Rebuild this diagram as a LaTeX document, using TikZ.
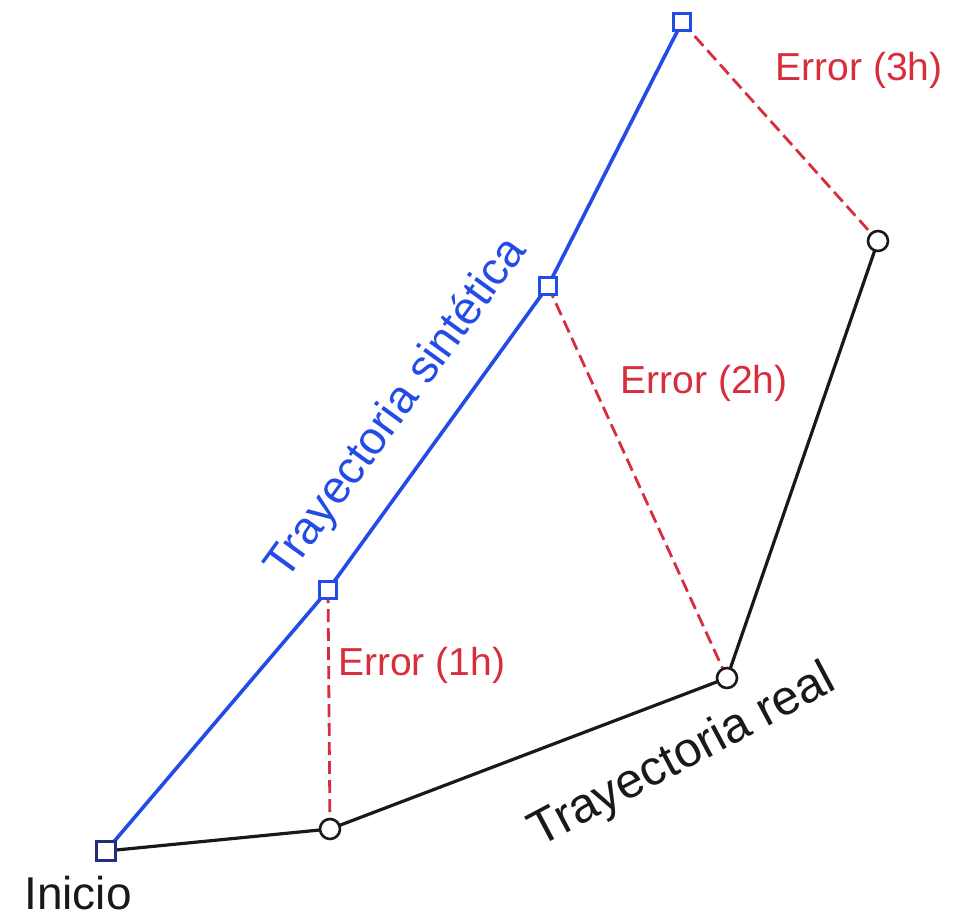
\documentclass[tikz,border=0pt]{standalone}
\usepackage{fontspec}
\setmainfont{Liberation Sans}
\definecolor{synblue}{RGB}{35,75,230}
\definecolor{errred}{RGB}{215,45,60}
\definecolor{navy}{RGB}{35,45,125}
\definecolor{realblack}{RGB}{25,25,25}
\begin{document}
\begin{tikzpicture}[x=1pt,y=-1pt,
  sq/.style={draw=synblue,line width=2.6pt,rectangle,minimum size=17pt,inner sep=0pt,fill=white},
  startsq/.style={draw=navy,line width=3pt,rectangle,minimum size=19pt,inner sep=0pt,fill=white},
  circ/.style={draw=realblack,line width=2.6pt,circle,minimum size=20pt,inner sep=0pt,fill=white},
  synline/.style={draw=synblue,line width=3.6pt},
  realline/.style={draw=realblack,line width=3.2pt},
  errline/.style={draw=errred,line width=2.8pt,dash pattern=on 13pt off 6pt},
  errlabel/.style={text=errred,font=\fontsize{39}{41}\selectfont,inner sep=0pt},
  biglabel/.style={font=\fontsize{46}{48}\selectfont,inner sep=0pt}]
\useasboundingbox (0,0) rectangle (958,919);
\coordinate (s0) at (106,851);
\coordinate (s1) at (328,590);
\coordinate (s2) at (548,286);
\coordinate (s3) at (682,22);
\coordinate (r1) at (330,829);
\coordinate (r2) at (727,678);
\coordinate (r3) at (878,241);
\draw[realline] (s0) -- (r1) -- (r2) -- (r3);
\draw[synline] (s0) -- (s1) -- (s2) -- (s3);
\draw[errline] (s1) -- (r1);
\draw[errline] (s2) -- (r2);
\draw[errline] (s3) -- (r3);
\node[startsq] (n0) at (s0) {};
\node[sq] (n1) at (s1) {};
\node[sq] (n2) at (s2) {};
\node[sq] (n3) at (s3) {};
\node[circ] (c1) at (r1) {};
\node[circ] (c2) at (r2) {};
\node[circ] (c3) at (r3) {};
\node[errlabel,anchor=west] (e1) at (338,665) {Error (1h)};
\node[errlabel] (e2) at (704,383) {Error (2h)};
\node[errlabel] (e3) at (859,70) {Error (3h)};
\node[biglabel,text=synblue,rotate=54] (ls) at (397,409) {Trayectoria sintética};
\node[biglabel,text=realblack,font=\fontsize{49}{51}\selectfont,rotate=28] (lr) at (683,757) {Trayectoria real};
\node[biglabel,text=realblack] (li) at (78,893) {Inicio};
\end{tikzpicture}
\end{document}
